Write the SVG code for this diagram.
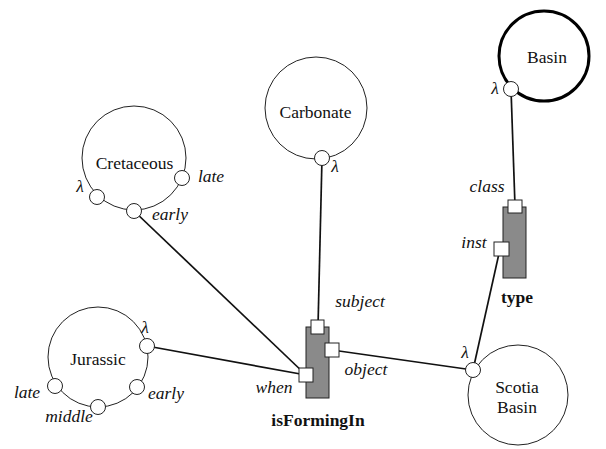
<svg xmlns="http://www.w3.org/2000/svg" width="606" height="449" viewBox="0 0 606 449">
<style>
.bg{fill:#fff}
.big{fill:#fff;stroke:#222;stroke-width:1}
.thick{fill:#fff;stroke:#000;stroke-width:3}
.port{fill:#fff;stroke:#222;stroke-width:1}
.rel{fill:#8a8a8a;stroke:#222;stroke-width:1}
.sq{fill:#fff;stroke:#222;stroke-width:1}
.conn{stroke:#111;stroke-width:1.7;fill:none}
text{font-family:"Liberation Serif","Times New Roman",serif;font-size:17.5px;fill:#111;text-anchor:middle}
.it{font-style:italic}
.b{font-weight:bold}
</style>
<rect class="bg" x="0" y="0" width="606" height="449"/>
<g id="connectors">
<line class="conn" x1="322" y1="158" x2="318" y2="327"/>
<line class="conn" x1="134" y1="211" x2="306" y2="375"/>
<line class="conn" x1="147" y1="346" x2="306" y2="375"/>
<line class="conn" x1="332" y1="350" x2="473" y2="370"/>
<line class="conn" x1="511" y1="89" x2="515" y2="206"/>
<line class="conn" x1="500" y1="249" x2="473" y2="370"/>
</g>
<g id="cretaceous">
<circle class="big" cx="134" cy="158" r="52"/>
<text x="134.5" y="169">Cretaceous</text>
<circle class="port" cx="97" cy="197" r="7.5"/>
<circle class="port" cx="182" cy="178" r="7.5"/>
<circle class="port" cx="134" cy="211" r="7.5"/>
<text class="it" x="80" y="192">λ</text>
<text class="it" x="211" y="182">late</text>
<text class="it" x="170" y="220">early</text>
</g>
<g id="carbonate">
<circle class="big" cx="316" cy="108" r="51"/>
<text x="315.5" y="118">Carbonate</text>
<circle class="port" cx="322" cy="158" r="7.5"/>
<text class="it" x="335" y="172">λ</text>
</g>
<g id="jurassic">
<circle class="big" cx="98" cy="357" r="50"/>
<text x="98" y="365">Jurassic</text>
<circle class="port" cx="147" cy="346" r="7.5"/>
<circle class="port" cx="137" cy="387" r="7.5"/>
<circle class="port" cx="98" cy="407" r="7.5"/>
<circle class="port" cx="55" cy="386" r="7.5"/>
<text class="it" x="145" y="333">λ</text>
<text class="it" x="166" y="399">early</text>
<text class="it" x="69" y="422">middle</text>
<text class="it" x="27" y="398">late</text>
</g>
<g id="isFormingIn">
<rect class="rel" x="306" y="327" width="23" height="71"/>
<rect class="sq" x="311" y="320" width="13" height="14"/>
<rect class="sq" x="325" y="343" width="14" height="14"/>
<rect class="sq" x="299" y="368" width="14" height="14"/>
<text class="it" x="360" y="307">subject</text>
<text class="it" x="366" y="375">object</text>
<text class="it" x="274" y="393">when</text>
<text class="b" x="318" y="426">isFormingIn</text>
</g>
<g id="scotiaBasin">
<circle class="big" cx="518" cy="395" r="50"/>
<text x="517" y="393">Scotia</text>
<text x="517" y="413">Basin</text>
<circle class="port" cx="473" cy="370" r="7.5"/>
<text class="it" x="465" y="358">λ</text>
</g>
<g id="basin">
<circle class="thick" cx="544" cy="56" r="45"/>
<text x="547" y="63">Basin</text>
<circle class="port" cx="511" cy="89" r="7.5"/>
<text class="it" x="495" y="94">λ</text>
</g>
<g id="type">
<rect class="rel" x="503" y="207" width="23" height="71"/>
<rect class="sq" x="508" y="200" width="14" height="13"/>
<rect class="sq" x="494" y="242" width="15" height="14"/>
<text class="it" x="487" y="192">class</text>
<text class="it" x="474" y="248">inst</text>
<text class="b" x="517" y="303">type</text>
</g>
</svg>
